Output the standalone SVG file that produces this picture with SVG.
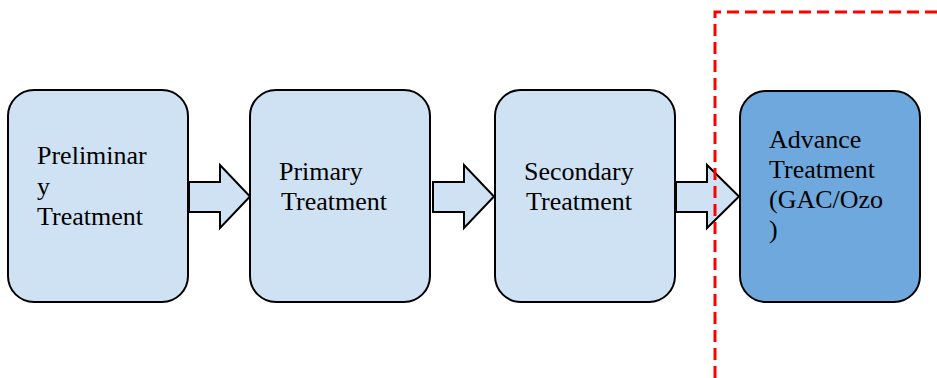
<svg xmlns="http://www.w3.org/2000/svg" width="937" height="378" viewBox="0 0 937 378">
<style>
.box{fill:#cfe2f3;stroke:#000;stroke-width:2}
.adv{fill:#6fa8dc;stroke:#000;stroke-width:2}
.arr{fill:#cfe2f3;stroke:#000;stroke-width:2;stroke-linejoin:miter}
.t{font-family:"Liberation Serif","Times New Roman",serif;font-size:26px;fill:#000}
.red{fill:none;stroke:#ff0000;stroke-width:3;stroke-dasharray:12,6}
</style>
<rect width="937" height="378" fill="#fff"/>
<g id="connectors">
<path class="arr" d="M189,182 H220 V165 L250,196.5 L220,228 V212 H189 Z"/>
<path class="arr" d="M433,182 H464 V165 L494,196.5 L464,228 V212 H433 Z"/>
<path class="arr" d="M676,182 H707 V165 L739,196.5 L707,228 V212 H676 Z"/>
</g>
<g id="preliminary">
<rect class="box" x="8" y="90" width="180" height="212" rx="26"/>
<text class="t" x="37" y="164">Preliminar</text>
<text class="t" x="37" y="195">y</text>
<text class="t" x="37" y="225">Treatment</text>
</g>
<g id="primary">
<rect class="box" x="250" y="90" width="180" height="212" rx="26"/>
<text class="t" x="279" y="180">Primary</text>
<text class="t" x="281" y="210">Treatment</text>
</g>
<g id="secondary">
<rect class="box" x="495" y="90" width="180" height="212" rx="26"/>
<text class="t" x="524" y="180">Secondary</text>
<text class="t" x="526" y="210">Treatment</text>
</g>
<g id="advance">
<rect class="adv" x="740" y="91" width="180" height="211" rx="26"/>
<text class="t" x="769" y="148">Advance</text>
<text class="t" x="769" y="178">Treatment</text>
<text class="t" x="769" y="208">(GAC/Ozo</text>
<text class="t" x="769" y="238">)</text>
</g>
<g id="boundary">
<path class="red" d="M715,378 V12 H937"/>
</g>
</svg>
